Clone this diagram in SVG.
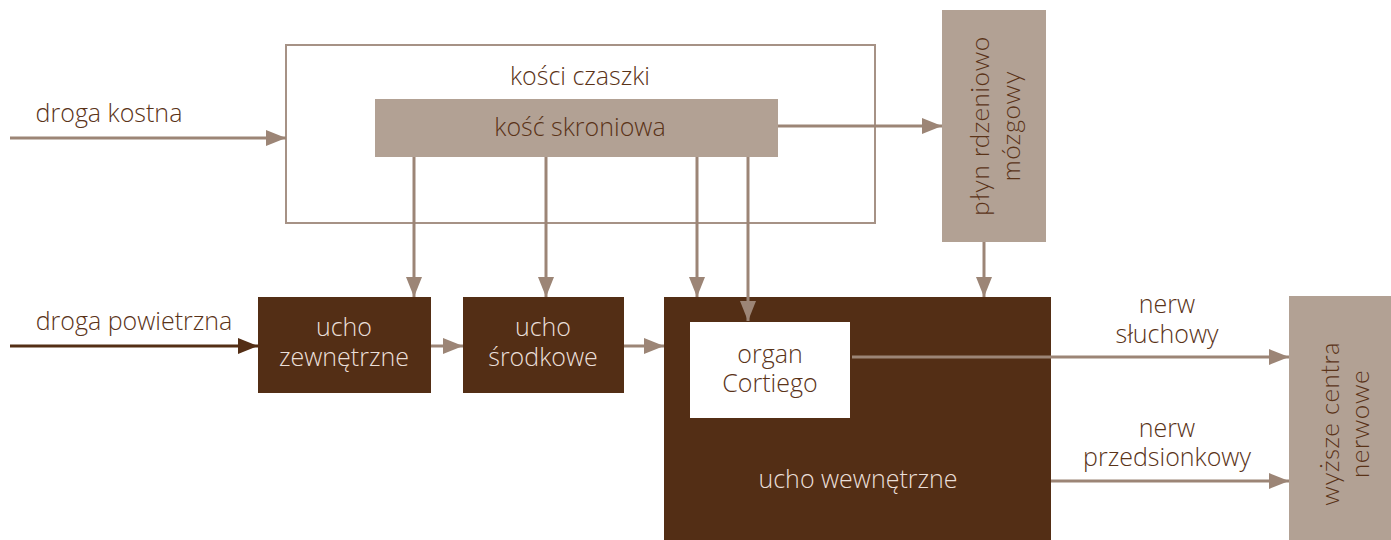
<svg xmlns="http://www.w3.org/2000/svg" width="1391" height="540" viewBox="0 0 1391 540">
<style>
.t{font-family:"Open Sans","Liberation Sans",sans-serif;font-size:25px;font-weight:300;text-anchor:middle}
.dk{fill:#5a3318}
.lt{fill:#eadfd8}
.rt{font-family:Lato,"Open Sans",sans-serif;font-size:26px;font-weight:300;text-anchor:middle;fill:#5a3318;letter-spacing:0.5px}
.c{stroke:#9c8576;stroke-width:3;fill:none}
.cd{stroke:#532e15;stroke-width:3;fill:none}
</style>
<defs>
<marker id="a" markerUnits="userSpaceOnUse" markerWidth="20" markerHeight="16" refX="20" refY="8" orient="auto"><path d="M0,0L20,8L0,16Z" fill="#9c8576"/></marker>
<marker id="ad" markerUnits="userSpaceOnUse" markerWidth="20" markerHeight="16" refX="20" refY="8" orient="auto"><path d="M0,0L20,8L0,16Z" fill="#532e15"/></marker>
</defs>
<rect width="1391" height="540" fill="#fff"/>
<g id="kosci-czaszki">
<rect x="286" y="45" width="589" height="178" fill="none" stroke="#a69286" stroke-width="2"/>
<text class="t dk" x="580" y="85">kości czaszki</text>
</g>
<g id="kosc-skroniowa">
<rect x="375" y="99" width="403" height="58" fill="#b2a194"/>
<text class="t dk" x="580" y="136">kość skroniowa</text>
</g>
<g id="plyn">
<rect x="942" y="10" width="104" height="232" fill="#b2a194"/>
<text class="rt" transform="translate(994,126) rotate(-90)"><tspan x="0" y="-5">płyn rdzeniowo</tspan><tspan x="0" y="26">mózgowy</tspan></text>
</g>
<g id="ucho-zewnetrzne">
<rect x="258" y="297" width="173" height="96" fill="#532e15"/>
<text class="t lt" x="344" y="336">ucho</text>
<text class="t lt" x="344" y="366">zewnętrzne</text>
</g>
<g id="ucho-srodkowe">
<rect x="463" y="297" width="161" height="96" fill="#532e15"/>
<text class="t lt" x="543" y="336">ucho</text>
<text class="t lt" x="543" y="366">środkowe</text>
</g>
<g id="ucho-wewnetrzne">
<rect x="664" y="297" width="387" height="243" fill="#532e15"/>
<text class="t lt" x="858" y="488">ucho wewnętrzne</text>
</g>
<g id="organ-cortiego">
<rect x="690" y="322" width="160" height="96" fill="#fff"/>
<text class="t dk" x="770" y="363">organ</text>
<text class="t dk" x="770" y="392">Cortiego</text>
</g>
<g id="wyzsze-centra">
<rect x="1289" y="296" width="102" height="244" fill="#b2a194"/>
<text class="rt" transform="translate(1341,424) rotate(-90)"><tspan x="0" y="-2">wyższe centra</tspan><tspan x="0" y="28">nerwowe</tspan></text>
</g>
<g id="labels">
<text class="t dk" x="109" y="122">droga kostna</text>
<text class="t dk" x="134" y="330">droga powietrzna</text>
<text class="t dk" x="1167" y="313">nerw</text>
<text class="t dk" x="1167" y="343">słuchowy</text>
<text class="t dk" x="1167" y="437">nerw</text>
<text class="t dk" x="1167" y="466">przedsionkowy</text>
</g>
<g id="connectors">
<line class="c" x1="10" y1="138" x2="286" y2="138" marker-end="url(#a)"/>
<line class="cd" x1="10" y1="346" x2="258" y2="346" marker-end="url(#ad)"/>
<line class="c" x1="431" y1="346" x2="463" y2="346" marker-end="url(#a)"/>
<line class="c" x1="624" y1="346" x2="664" y2="346" marker-end="url(#a)"/>
<line class="c" x1="778" y1="126" x2="942" y2="126" marker-end="url(#a)"/>
<line class="c" x1="414" y1="157" x2="414" y2="297" marker-end="url(#a)"/>
<line class="c" x1="546" y1="157" x2="546" y2="297" marker-end="url(#a)"/>
<line class="c" x1="697" y1="157" x2="697" y2="297" marker-end="url(#a)"/>
<line class="c" x1="748" y1="157" x2="748" y2="321" marker-end="url(#a)"/>
<line class="c" x1="984" y1="242" x2="984" y2="297" marker-end="url(#a)"/>
<line class="c" x1="852" y1="357" x2="1289" y2="357" marker-end="url(#a)"/>
<line class="c" x1="1051" y1="481" x2="1289" y2="481" marker-end="url(#a)"/>
</g>
</svg>
